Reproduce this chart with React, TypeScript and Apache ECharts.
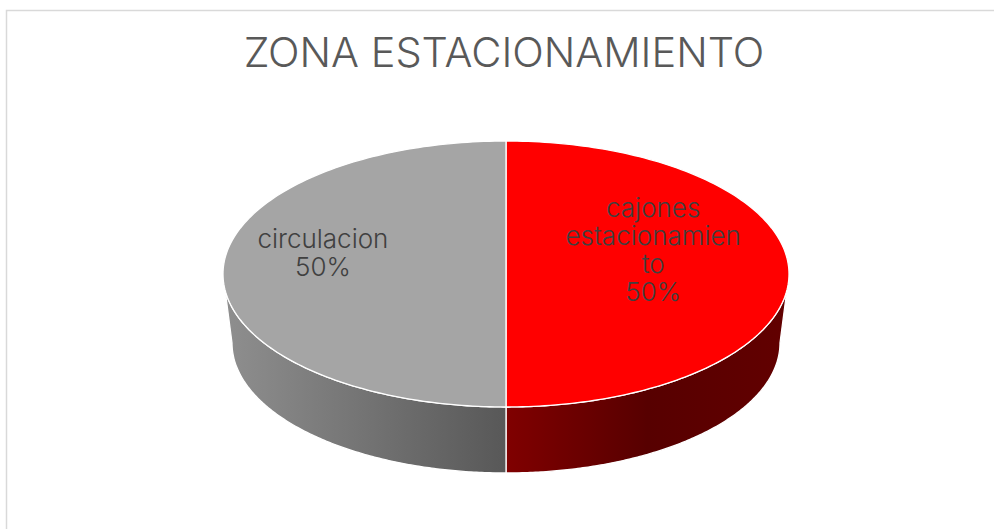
import React, { useEffect, useRef } from "react";
import * as echarts from "echarts";

// ---- data ----
const titleText = "ZONA ESTACIONAMIENTO";
const categories = ["cajones estacionamiento", "circulacion"];
const values = [50, 50];
// label text as wrapped in the reference
const categoryLabels = ["cajones\nestacionamien\nto", "circulacion"];

// ---- styles / layout ----
const topColors = ["#ff0000", "#a5a5a5"];
const sideGradients = [
  [
    { offset: 0, color: "#800000" },
    { offset: 0.5, color: "#570000" },
    { offset: 1, color: "#620000" },
  ],
  [
    { offset: 0, color: "#8f8f8f" },
    { offset: 1, color: "#585858" },
  ],
];
const labelRadial = [0.52, 0.647];
const labelLift = [-25, -22];

const CX = 506, CY = 274, RX = 283, RY = 133;
const BCX = 506, BCY = 343, BRX = 274, BRY = 130;

const total = values.reduce((a, b) => a + b, 0);
const starts = values.map((_, i) => values.slice(0, i).reduce((a, b) => a + b, 0));
const seriesData = values.map((v, i) => ({ name: categories[i], value: [v, starts[i], i] }));

const topPt = (t: number) => [CX + RX * Math.sin(t), CY - RY * Math.cos(t)];
const botPt = (t: number) => [BCX + BRX * Math.sin(t), BCY - BRY * Math.cos(t)];

export default function App() {
  const ref = useRef<HTMLDivElement>(null);
  useEffect(() => {
    if (!ref.current) return;
    const chart = echarts.init(ref.current, null, { renderer: "svg" });
    chart.setOption({
      animation: false,
      backgroundColor: "#ffffff",
      title: {
        text: titleText,
        left: 499,
        top: 26,
        textAlign: "center",
        textStyle: {
          fontFamily: "Inter",
          fontSize: 41.5,
          fontWeight: 300,
          color: "#595959",
        },
      },
      graphic: [
        {
          type: "rect",
          z: -10,
          silent: true,
          shape: { x: 6.5, y: 10.5, width: 1200, height: 800 },
          style: { fill: "none", stroke: "#d9d9d9", lineWidth: 1.5 },
        },
      ],
      series: [
        {
          type: "custom",
          coordinateSystem: "none",
          data: seriesData,
          renderItem: (params: any, api: any) => {
            const v = api.value(0) as number;
            const s = api.value(1) as number;
            const i = params.dataIndex;
            const a0 = (s / total) * Math.PI * 2;
            const a1 = ((s + v) / total) * Math.PI * 2;
            const N = 160;
            const children: any[] = [];
            // front side wall
            const f0 = Math.max(a0, Math.PI / 2);
            const f1 = Math.min(a1, (Math.PI * 3) / 2);
            if (f1 > f0) {
              const pts: number[][] = [];
              for (let k = 0; k <= N; k++) pts.push(topPt(f0 + ((f1 - f0) * k) / N));
              for (let k = N; k >= 0; k--) pts.push(botPt(f0 + ((f1 - f0) * k) / N));
              const xs = pts.map((p) => p[0]);
              children.push({
                type: "polygon",
                shape: { points: pts },
                style: {
                  fill: {
                    type: "linear",
                    x: Math.min(...xs),
                    y: 0,
                    x2: Math.max(...xs),
                    y2: 0,
                    global: true,
                    colorStops: sideGradients[i],
                  },
                  stroke: "#ffffff",
                  lineWidth: 1.3,
                },
              });
            }
            // top face
            const top: number[][] = [[CX, CY]];
            for (let k = 0; k <= N; k++) top.push(topPt(a0 + ((a1 - a0) * k) / N));
            children.push({
              type: "polygon",
              shape: { points: top },
              style: { fill: topColors[i], stroke: "#ffffff", lineWidth: 1.3 },
            });
            // label
            const mid = (a0 + a1) / 2;
            const pct = Math.round((v / total) * 100) + "%";
            children.push({
              type: "text",
              style: {
                text: categoryLabels[i] + "\n" + pct,
                x: CX + Math.sin(mid) * RX * labelRadial[i],
                y: CY - Math.cos(mid) * RY * labelRadial[i] + labelLift[i],
                align: "center",
                verticalAlign: "middle",
                fontFamily: "Inter",
                fontWeight: 300,
                fontSize: 26,
                lineHeight: 28,
                fill: "#404040",
              },
            });
            return { type: "group", children };
          },
        },
      ],
    });
    return () => chart.dispose();
  }, []);
  return (
    <div
      ref={ref}
      style={{ position: "absolute", left: 0, top: 0, width: 994, height: 529 }}
    />
  );
}
